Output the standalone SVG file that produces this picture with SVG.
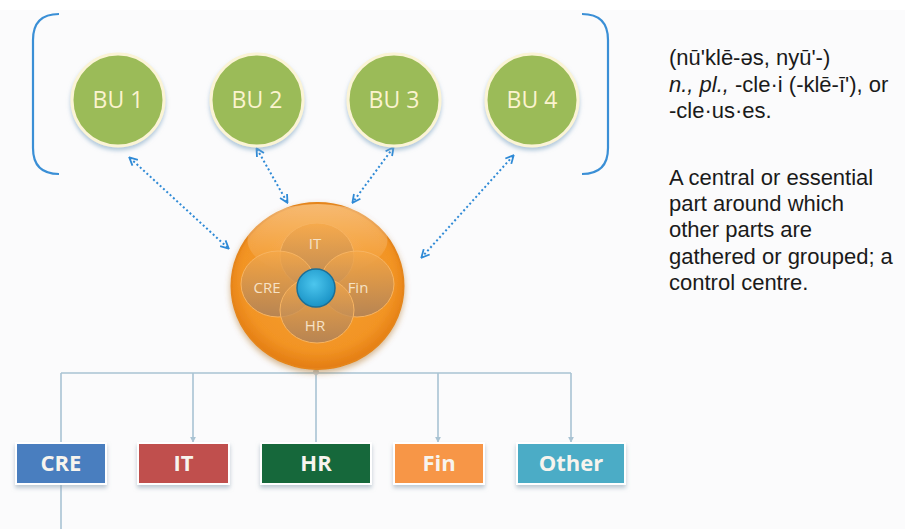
<svg xmlns="http://www.w3.org/2000/svg" width="905" height="529" viewBox="0 0 905 529">
  <defs>
    <style>
      .bu { fill: #9bbb59; stroke: #fbf4d6; stroke-width: 3; filter: url(#buShadow); }
      .bulabel { font-family: "Open Sans", "Liberation Sans", sans-serif; font-size: 23px; fill: #fbf3cf; text-anchor: middle; }
      .dotted { fill: none; stroke: #2f8ad6; stroke-width: 2; stroke-dasharray: 2 2.5; marker-start: url(#openHead); marker-end: url(#openHead); }
      .bracket { fill: none; stroke: #3a8fd6; stroke-width: 2.2; }
      .conn { fill: none; stroke: #a9c3d3; stroke-width: 1.6; }
      .connArrow { fill: none; stroke: #a9c3d3; stroke-width: 1.6; marker-end: url(#smallHead); }
      .box { stroke: #ffffff; stroke-width: 2; filter: url(#boxShadow); }
      .boxlabel { font-family: "Open Sans", "Liberation Sans", sans-serif; font-size: 22px; font-weight: bold; fill: #f7f4ee; text-anchor: middle; }
      .petal { fill: url(#petalGrad); stroke: #f7b462; stroke-width: 1; }
      .petallabel { font-family: "Open Sans", "Liberation Sans", sans-serif; font-size: 15px; fill: #f6e2c6; text-anchor: middle; }
      .def { font-family: "Liberation Sans", Arial, sans-serif; font-size: 22px; fill: #1a1a1a; }
    </style>
    <marker id="openHead" viewBox="0 0 10 10" refX="8" refY="5" markerWidth="10" markerHeight="10" markerUnits="userSpaceOnUse" orient="auto-start-reverse">
      <path d="M1,1 L9,5 L1,9" fill="none" stroke="#2f8ad6" stroke-width="1.8"/>
    </marker>
    <marker id="smallHead" viewBox="0 0 8 8" refX="7" refY="4" markerWidth="6" markerHeight="6" markerUnits="userSpaceOnUse" orient="auto">
      <path d="M0,0 L8,4 L0,8 Z" fill="#a9c3d3"/>
    </marker>
    <filter id="buShadow" x="-20%" y="-20%" width="140%" height="150%">
      <feDropShadow dx="0" dy="3" stdDeviation="2" flood-color="#7fa6c4" flood-opacity="0.6"/>
    </filter>
    <filter id="boxShadow" x="-20%" y="-30%" width="140%" height="180%">
      <feDropShadow dx="0" dy="3" stdDeviation="2" flood-color="#8aa0b0" flood-opacity="0.55"/>
    </filter>
    <filter id="orangeShadow" x="-20%" y="-20%" width="140%" height="140%">
      <feDropShadow dx="0" dy="3" stdDeviation="3" flood-color="#a05a10" flood-opacity="0.45"/>
    </filter>
    <radialGradient id="orangeGrad" cx="50%" cy="45%" r="55%">
      <stop offset="0" stop-color="#f7a234"/>
      <stop offset="0.8" stop-color="#f29424"/>
      <stop offset="1" stop-color="#e37c12"/>
    </radialGradient>
    <linearGradient id="orangeShine" x1="0" y1="0" x2="0" y2="1">
      <stop offset="0" stop-color="#ffffff" stop-opacity="0.35"/>
      <stop offset="1" stop-color="#ffffff" stop-opacity="0"/>
    </linearGradient>
    <linearGradient id="petalGrad" x1="0" y1="0" x2="0" y2="1">
      <stop offset="0" stop-color="#f6a848" stop-opacity="0.8"/>
      <stop offset="1" stop-color="#a8805e" stop-opacity="0.8"/>
    </linearGradient>
    <radialGradient id="blueGrad" cx="45%" cy="40%" r="60%">
      <stop offset="0" stop-color="#4cc6ee"/>
      <stop offset="1" stop-color="#1a93c6"/>
    </radialGradient>
  </defs>

  <rect x="0" y="0" width="905" height="529" fill="#fbfbfc"/>
  <rect x="0" y="0" width="905" height="10" fill="#ffffff"/>

  <!-- brackets -->
  <g id="brackets">
    <path class="bracket" d="M59,14 Q33,14 33,40 L33,148 Q33,174 59,174"/>
    <path class="bracket" d="M582,14 Q608,14 608,40 L608,148 Q608,174 582,174"/>
  </g>

  <!-- connectors -->
  <g id="connectors">
    <path class="dotted" d="M130,158 L228,248"/>
    <path class="dotted" d="M257,149 L287,202"/>
    <path class="dotted" d="M393,148 L353,202"/>
    <path class="dotted" d="M513,156 L422,257"/>
    <path class="conn" d="M61,373 L571,373"/>
    <path class="conn" d="M61,373 L61,443"/>
    <path class="conn" d="M61,484 L61,529"/>
    <path class="connArrow" d="M193,373 L193,442"/>
    <path class="conn" d="M316,368 L316,443"/>
    <path class="connArrow" d="M438,373 L438,442"/>
    <path class="connArrow" d="M571,373 L571,442"/>
    <circle cx="316" cy="372" r="3" fill="#c3ccd3"/>
  </g>

  <!-- business units -->
  <g id="bu1">
    <circle class="bu" cx="118" cy="100" r="46"/>
    <text class="bulabel" x="118" y="108">BU 1</text>
  </g>
  <g id="bu2">
    <circle class="bu" cx="257" cy="100" r="46"/>
    <text class="bulabel" x="257" y="108">BU 2</text>
  </g>
  <g id="bu3">
    <circle class="bu" cx="394" cy="100" r="46"/>
    <text class="bulabel" x="394" y="108">BU 3</text>
  </g>
  <g id="bu4">
    <circle class="bu" cx="532" cy="100" r="46"/>
    <text class="bulabel" x="532" y="108">BU 4</text>
  </g>

  <!-- nucleus -->
  <g id="nucleus">
    <ellipse cx="317.5" cy="286" rx="86" ry="83" fill="url(#orangeGrad)" stroke="#e5851a" stroke-width="2" filter="url(#orangeShadow)"/>
    <ellipse cx="317.5" cy="240" rx="70" ry="36" fill="url(#orangeShine)"/>
    <ellipse class="petal" cx="317" cy="256" rx="37" ry="33"/>
    <ellipse class="petal" cx="278" cy="284" rx="37" ry="33"/>
    <ellipse class="petal" cx="357" cy="284" rx="37" ry="33"/>
    <ellipse class="petal" cx="317" cy="310" rx="37" ry="33"/>
    <text class="petallabel" x="315" y="249">IT</text>
    <text class="petallabel" x="267" y="293">CRE</text>
    <text class="petallabel" x="358" y="293">Fin</text>
    <text class="petallabel" x="315" y="331">HR</text>
    <circle cx="316" cy="288" r="19" fill="url(#blueGrad)" stroke="#1b6f97" stroke-width="1.5"/>
  </g>

  <!-- function boxes -->
  <g id="box-cre">
    <rect class="box" x="16" y="443" width="90" height="41" fill="#4a7ebf"/>
    <text class="boxlabel" x="61" y="471">CRE</text>
  </g>
  <g id="box-it">
    <rect class="box" x="138" y="443" width="91" height="41" fill="#c0504d"/>
    <text class="boxlabel" x="183.5" y="471">IT</text>
  </g>
  <g id="box-hr">
    <rect class="box" x="261" y="443" width="110" height="41" fill="#17683a"/>
    <text class="boxlabel" x="316" y="471">HR</text>
  </g>
  <g id="box-fin">
    <rect class="box" x="394" y="443" width="90" height="41" fill="#f79646"/>
    <text class="boxlabel" x="439" y="471">Fin</text>
  </g>
  <g id="box-other">
    <rect class="box" x="517" y="443" width="108" height="41" fill="#4bacc6"/>
    <text class="boxlabel" x="571" y="471">Other</text>
  </g>

  <!-- definition -->
  <g id="definition">
    <text class="def" x="669" y="65">(nū'klē-əs, nyū'-)</text>
    <text class="def" x="669" y="92"><tspan font-style="italic">n., pl.,</tspan> -cle·i (-klē-ī'), or</text>
    <text class="def" x="669" y="118">-cle·us·es.</text>
    <text class="def" x="669" y="185">A central or essential</text>
    <text class="def" x="669" y="211">part around which</text>
    <text class="def" x="669" y="237">other parts are</text>
    <text class="def" x="669" y="264">gathered or grouped; a</text>
    <text class="def" x="669" y="290">control centre.</text>
  </g>
</svg>
